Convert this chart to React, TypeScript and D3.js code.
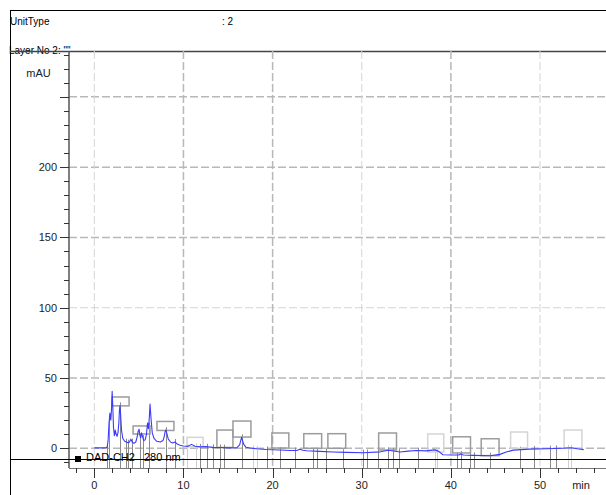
import React from "react";
import * as d3 from "d3";

// Chromatogram trace: retention time (min) and absorbance (mAU)
const traceTime = [
  0, 0.5, 1.0, 1.3, 1.45, 1.55, 1.65, 1.75, 1.85, 1.93, 2.0, 2.07, 2.15, 2.25, 2.35, 2.45, 2.55, 2.65, 2.75,
  2.82, 2.88, 2.95, 3.05, 3.2, 3.4, 3.6, 3.8, 3.95, 4.1, 4.25, 4.45, 4.65, 4.8, 4.92, 5.02, 5.12, 5.2, 5.3,
  5.42, 5.55, 5.7, 5.85, 5.97, 6.07, 6.17, 6.25, 6.35, 6.5, 6.7, 7.0, 7.4, 7.7, 7.85, 7.95, 8.03, 8.12, 8.3,
  8.55, 8.8, 9.05, 9.3, 9.6, 10.0, 10.5, 10.9, 11.3, 11.9, 12.5, 13.3, 14.2, 15.2, 16.0, 16.3, 16.52, 16.75,
  17.0, 17.5, 18.2, 19.3, 20.8, 22.0, 22.7, 23.06, 23.4, 23.8, 25.3, 26.8, 28.3, 30.2, 32.1, 33.0, 34.3,
  35.2, 36.1, 37.2, 37.9, 38.2, 38.6, 39.1, 40.0, 40.9, 41.1, 41.4, 42.5, 44.4, 45.5, 46.3, 47.0, 48.8,
  50.7, 52.5, 53.5, 54.2, 54.9,
];
const traceMAU = [
  0.3, 0.3, 0.3, 0.4, 1, 6, 18, 25, 20, 28, 40.5, 30, 15, 9, 13, 10, 8.5, 11, 18,
  27, 30.5, 24, 13, 7, 5, 4.5, 4, 4.5, 6.5, 4.5, 3.5, 4.5, 8, 12, 13.5, 9, 7.5, 11,
  8, 5.5, 6, 10, 18, 14, 22, 31.5, 22, 11, 7, 5, 4.5, 5.5, 8.5, 12, 13, 11, 6.5,
  4.5, 3.8, 4.5, 3, 2.2, 1.6, 1.4, 2.8, 1.5, 1.0, 1.2, 0.7, 0.6, 0.3, 0.5, 2.5, 7.8, 3,
  0.8, 0.2, -0.3, -0.8, -1.2, -1.5, -1.5, -0.6, -1.4, -1.7, -2.2, -2.6, -2.9, -3.1, -2.5, -1.4, -2.6,
  -2.0, -1.6, -1.8, -1.3, -1.1, -2.0, -4.6, -4.8, -4.8, -4.0, -4.7, -5.0, -5.3, -4.3, -2.5, -1.3, -0.6,
  -0.3, 0.1, 0.4, -0.3, -0.9,
];

// Integration event markers (min)
const markerTimes = [
  1.39, 1.7, 2.88, 3.52, 3.81, 4.23, 5.18, 5.46, 6.1, 8.02, 9.05, 11.85, 12.67, 13.34, 14.09, 14.57,
  16.52, 19.4, 20.8, 22.5, 24.55, 24.93, 25.98, 27.9, 30.1, 30.54, 31.84, 32.93, 33.52, 34.19, 36.26,
  40.7, 41.08, 42.1, 42.56, 44.35, 47.8, 49.3, 51.1, 51.84,
];
const fadedMarkerTimes = [10.45, 11.4, 17.83, 18.2, 38.2, 38.45, 53.14, 53.52];

// Peak label frames: start/end (min), low/high (mAU), faded flag
const labelStart = [2.0, 4.35, 7.03, 10.4, 13.75, 15.55, 19.92, 23.5, 26.2, 31.9, 37.4, 40.2, 43.4, 46.7, 52.7];
const labelEnd = [3.9, 6.25, 8.93, 12.2, 15.55, 17.57, 21.82, 25.5, 28.2, 33.9, 39.2, 42.2, 45.4, 48.6, 54.7];
const labelLow = [30.2, 10.2, 12.7, 1.1, 0.6, 8, 0.2, 0, 0, -1.2, -2.6, -3.3, -5.2, 0, 0];
const labelHigh = [36.5, 15.9, 19.1, 7.8, 13, 19.4, 10.9, 10.4, 10.4, 10.9, 10.2, 8.2, 6.8, 11.6, 13];
const labelFaded = [false, false, false, true, false, false, false, false, false, false, true, false, false, true, true];

const yLabelTicks = [0, 50, 100, 150, 200];
const yGridTicks = [0, 50, 100, 150, 200, 250];
const xLabelTicks = [0, 10, 20, 30, 40, 50];

const headerKey = "UnitType";
const headerValue = ": 2";
const layerLabel = 'Layer No 2: ""';
const yUnit = "mAU";
const xUnit = "min";
const signalName = "DAD-CH2";
const signalWave = "280 nm";

const W = 606;
const H = 495;
const FONT = "'Liberation Sans', Arial, sans-serif";

export default function App() {
  const plotLeft = 69;
  const plotRight = 606;
  const plotTop = 51;
  const plotBottom = 468;
  const legendY = 459;

  const x = d3.scaleLinear().domain([-2.84, 57.4]).range([plotLeft, plotRight]);
  const y = d3.scaleLinear().domain([-14, 282.6]).range([plotBottom, plotTop]);

  const trace = traceTime.map((t, i) => [t, traceMAU[i]] as [number, number]);
  const interp = d3.scaleLinear().domain(traceTime).range(traceMAU);
  const valueAt = (t: number) => interp(t);

  const line = d3
    .line<[number, number]>()
    .x((d) => x(d[0]))
    .y((d) => y(d[1]));

  const yMinor = d3.range(-10, 281, 10);
  const xMinor = d3.range(-2, 57, 2);

  const gridStyle = (dark: boolean) =>
    dark
      ? { stroke: "#b8b8b8", strokeWidth: 1.5 }
      : { stroke: "#d4d4d4", strokeWidth: 1 };

  return (
    <svg
      width={W}
      height={H}
      style={{ position: "absolute", left: 0, top: 0, background: "#fff" }}
      fontFamily={FONT}
    >
      <rect x={0} y={0} width={W} height={H} fill="#fff" />

      {/* header */}
      <line x1={10} x2={W} y1={10.5} y2={10.5} stroke="#000" strokeWidth={1} />
      <line x1={10.5} x2={10.5} y1={10} y2={H} stroke="#000" strokeWidth={1} />
      <text x={10} y={25} fontSize={10} fill="#000">{headerKey}</text>
      <text x={222} y={25} fontSize={10} fill="#000">{headerValue}</text>
      <text x={9} y={54} fontSize={10} fill="#000">{layerLabel}</text>
      <line x1={10} x2={W} y1={51.5} y2={51.5} stroke="#444" strokeWidth={1.5} />

      {/* grid */}
      {yGridTicks.map((v) => (
        <line
          key={"hg" + v}
          x1={plotLeft}
          x2={plotRight}
          y1={y(v)}
          y2={y(v)}
          strokeDasharray="8,3"
          {...gridStyle(v !== 100)}
        />
      ))}
      {xLabelTicks.map((t) => (
        <line
          key={"vg" + t}
          x1={x(t)}
          x2={x(t)}
          y1={plotTop}
          y2={plotBottom}
          strokeDasharray="8,3"
          {...gridStyle(t === 10 || t === 40 || t === 20)}
        />
      ))}

      {/* integration markers */}
      {fadedMarkerTimes.map((t) => (
        <line
          key={"fm" + t}
          x1={Math.round(x(t)) + 0.5}
          x2={Math.round(x(t)) + 0.5}
          y1={y(valueAt(t)) - 3}
          y2={plotBottom}
          stroke="#cfcfcf"
          strokeWidth={1}
        />
      ))}
      {markerTimes.map((t) => (
        <line
          key={"m" + t}
          x1={Math.round(x(t)) + 0.5}
          x2={Math.round(x(t)) + 0.5}
          y1={y(valueAt(t)) - 3}
          y2={plotBottom}
          stroke="#8a8a8a"
          strokeWidth={1}
        />
      ))}

      {/* peak label frames */}
      {labelStart.map((s, i) => (
        <rect
          key={"lb" + i}
          x={x(s)}
          y={y(labelHigh[i])}
          width={x(labelEnd[i]) - x(s)}
          height={y(labelLow[i]) - y(labelHigh[i])}
          fill="none"
          stroke={labelFaded[i] ? "#d4d4d4" : "#9c9c9c"}
          strokeWidth={1.5}
        />
      ))}

      {/* signal */}
      <path d={line(trace) || ""} fill="none" stroke="#3b3bff" strokeWidth={1.1} strokeLinejoin="round" />

      {/* axes */}
      <line x1={plotLeft} x2={plotLeft} y1={plotTop} y2={plotBottom} stroke="#555" strokeWidth={1.5} />
      <line x1={plotLeft} x2={plotRight} y1={plotBottom + 0.5} y2={plotBottom + 0.5} stroke="#777" strokeWidth={1} />
      {yMinor.map((v) => {
        const major = v % 50 === 0;
        const yy = Math.round(y(v)) + 0.5;
        return (
          <line
            key={"yt" + v}
            x1={major ? plotLeft - 9 : plotLeft - 5}
            x2={plotLeft}
            y1={yy}
            y2={yy}
            stroke="#333"
            strokeWidth={1}
          />
        );
      })}
      {yLabelTicks.map((v) => (
        <text key={"yl" + v} x={57} y={y(v) + 4} fontSize={11} textAnchor="end" fill="#222">
          {v}
        </text>
      ))}
      <text x={38.5} y={77} fontSize={11} textAnchor="middle" fill="#222">{yUnit}</text>

      {xMinor.map((t) => {
        const major = t % 10 === 0;
        const xx = Math.round(x(t)) + 0.5;
        return (
          <line
            key={"xt" + t}
            x1={xx}
            x2={xx}
            y1={plotBottom}
            y2={plotBottom + (major ? 10 : 5)}
            stroke="#333"
            strokeWidth={1}
          />
        );
      })}
      {xLabelTicks.map((t) => (
        <text key={"xl" + t} x={x(t)} y={489} fontSize={11} textAnchor="middle" fill="#222">
          {t}
        </text>
      ))}
      <text x={581} y={489} fontSize={11} textAnchor="middle" fill="#222">{xUnit}</text>

      {/* signal legend */}
      <line x1={10} x2={W} y1={legendY + 0.5} y2={legendY + 0.5} stroke="#000" strokeWidth={1} />
      <rect x={75} y={456} width={6} height={6} fill="#000" />
      <text fontSize={11} y={461} fill="#000">
        <tspan x={86}>{signalName}</tspan>
        <tspan x={144}>{signalWave}</tspan>
      </text>
    </svg>
  );
}
